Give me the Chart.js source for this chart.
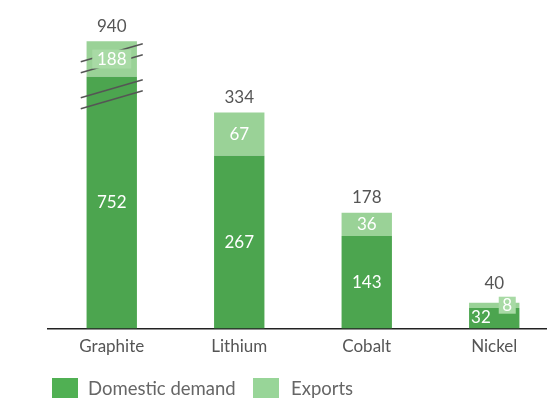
<!DOCTYPE html>
<html>
<head>
<meta charset="utf-8">
<script src="https://cdn.jsdelivr.net/npm/chart.js@4/dist/chart.umd.min.js"></script>
<style>
  html, body { margin: 0; padding: 0; background: #fff; overflow: hidden; }
  #wrap { position: relative; width: 560px; height: 403px; }
  #wrap canvas { position: absolute; left: 0; top: 0; }
  .lg { position: absolute; font-family: Lato, sans-serif; font-size: 18.5px; color: #666; line-height: 20px; }
  .sw { position: absolute; width: 26px; height: 20px; }
</style>
</head>
<body>
<div id="wrap">
  <canvas id="c" width="560" height="403"></canvas>
  <div class="sw" style="left:52px;top:378px;background:#50b053"></div>
  <div class="lg" style="left:88px;top:378px">Domestic demand</div>
  <div class="sw" style="left:253px;top:378px;background:#98d598"></div>
  <div class="lg" style="left:291px;top:378px">Exports</div>
</div>
<script>
const categories = ['Graphite', 'Lithium', 'Cobalt', 'Nickel'];
const domesticDemand = [752, 267, 143, 32];
const exportsValues = [188, 67, 36, 8];
const totals = [940, 334, 178, 40];
// Graphite is drawn on a broken axis: heights shown, in axis units
const domesticShown = [389, 267, 143, 32];
const exportsShown = [55, 67, 36, 8];

const DARK = '#4ca54f';
const LIGHT = '#9ad297';
const BOX = '#a8daa5';

const labelPlugin = {
  id: 'labels',
  afterDatasetsDraw(chart) {
    const ctx = chart.ctx;
    const m0 = chart.getDatasetMeta(0).data;
    const m1 = chart.getDatasetMeta(1).data;
    ctx.save();
    // break marks on graphite
    const g = m0[0];
    const split = g.y;
    ctx.strokeStyle = '#555';
    ctx.lineWidth = 1.5;
    [split - 18.5, split + 17.5].forEach(cy => {
      [cy - 5.5, cy + 5.5].forEach(c => {
        ctx.beginPath();
        ctx.moveTo(g.x - 31, c + 9);
        ctx.lineTo(g.x + 31, c - 9);
        ctx.stroke();
      });
    });
    ctx.font = '17px Lato, sans-serif';
    ctx.textBaseline = 'middle';
    for (let i = 0; i < categories.length; i++) {
      const d = m0[i], e = m1[i];
      const darkH = d.base - d.y;
      const lightH = e.base - e.y;
      let topY = e.y;
      ctx.fillStyle = '#fff';
      if (darkH < 24) {
        ctx.textAlign = 'left';
        ctx.fillText(String(domesticDemand[i]), d.x - d.width / 2 + 2, d.base - 11);
      } else {
        ctx.textAlign = 'center';
        ctx.fillText(String(domesticDemand[i]), d.x, (d.y + d.base) / 2);
      }
      const txt = String(exportsValues[i]);
      if (lightH < 20) {
        const bx = e.x + 13, by = e.y + 2.5;
        const w = 17, h = 17;
        ctx.fillStyle = BOX;
        ctx.fillRect(bx - w / 2, by - h / 2, w, h);
        ctx.fillStyle = '#fff';
        ctx.textAlign = 'center';
        ctx.fillText(txt, bx, by);
        topY = Math.min(topY, by - h / 2 + 2);
      } else {
        const cy = (e.y + e.base) / 2;
        if (i === 0) {
          const w = 39, h = 19;
          ctx.fillStyle = BOX;
          ctx.fillRect(e.x - w / 2, cy - h / 2, w, h);
        }
        ctx.fillStyle = '#fff';
        ctx.textAlign = 'center';
        ctx.fillText(txt, e.x, cy);
      }
      ctx.fillStyle = '#555';
      ctx.textAlign = 'center';
      ctx.fillText(String(totals[i]), e.x, topY - 15);
    }
    ctx.restore();
  }
};

new Chart(document.getElementById('c'), {
  type: 'bar',
  data: {
    labels: categories,
    datasets: [
      { label: 'Domestic demand', data: domesticShown, backgroundColor: DARK },
      { label: 'Exports', data: exportsShown, backgroundColor: LIGHT }
    ]
  },
  options: {
    responsive: false,
    animation: false,
    events: [],
    layout: { padding: { left: 48, right: 2, top: 5, bottom: 38 } },
    datasets: { bar: { categoryPercentage: 1, barPercentage: 0.395 } },
    plugins: { legend: { display: false }, tooltip: { enabled: false } },
    scales: {
      x: {
        stacked: true,
        grid: { display: false, drawTicks: false },
        border: { display: true, color: '#222', width: 1.5 },
        ticks: { padding: 8, color: '#555', font: { family: 'Lato', size: 17 } }
      },
      y: {
        stacked: true,
        display: false,
        min: 0,
        max: 500
      }
    }
  },
  plugins: [labelPlugin]
});
</script>
</body>
</html>
